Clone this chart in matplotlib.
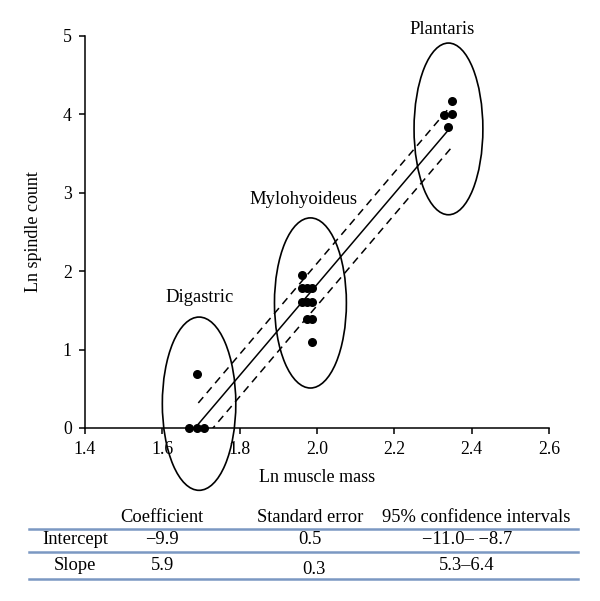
import matplotlib
matplotlib.use("Agg")
import matplotlib.pyplot as plt
import numpy as np
from matplotlib.patches import Ellipse
from matplotlib.lines import Line2D

plt.rcParams['font.family'] = ['Liberation Serif', 'DejaVu Serif']

# ---- data ----
dig_x = [1.669, 1.689, 1.708, 1.689]
dig_y = [0.0, 0.0, 0.0, 0.693]
myl_x = [1.960, 1.960, 1.973, 1.988, 1.960, 1.973, 1.988, 1.973, 1.988, 1.988]
myl_y = [1.946, 1.792, 1.792, 1.792, 1.609, 1.609, 1.609, 1.386, 1.386, 1.099]
pla_x = [2.350, 2.328, 2.350, 2.339]
pla_y = [4.17, 3.99, 4.00, 3.84]

fit_intercept = -9.77
fit_slope = 5.80
fit_xrange = [1.693, 2.339]
ci_offset = 0.27
ci_upper_xrange = [1.693, 2.344]
ci_lower_xrange = [1.723, 2.348]

groups = ["Digastric", "Mylohyoideus", "Plantaris"]
ell_center = [(1.695, 0.31), (1.983, 1.595), (2.340, 3.815)]
ell_width = [0.19, 0.186, 0.178]
ell_height = [2.21, 2.17, 2.19]
label_pos = [(1.695, 1.67), (1.964, 2.92), (2.323, 5.08)]

xticks = [1.4, 1.6, 1.8, 2.0, 2.2, 2.4, 2.6]
xtick_labels = ["1.4", "1.6", "1.8", "2.0", "2.2", "2.4", "2.6"]
yticks = [0, 1, 2, 3, 4, 5]

table_header = ["Coefficient", "Standard error", "95% confidence intervals"]
table_rows = ["Intercept", "Slope"]
table_coef = ["\u22129.9", "5.9"]
table_se = ["0.5", "0.3"]
table_ci = ["\u221211.0\u2013 \u22128.7", "5.3\u20136.4"]

W, H = 600, 601
fig = plt.figure(figsize=(W / 100, H / 100), dpi=100)
ax = fig.add_axes([85 / W, 1 - 428 / H, (549 - 85) / W, (428 - 36) / H])
ax.set_xlim(1.4, 2.6)
ax.set_ylim(0, 5)
for s in ["top", "right"]:
    ax.spines[s].set_visible(False)
for s in ["left", "bottom"]:
    ax.spines[s].set_linewidth(1.1)
ax.set_xticks(xticks)
ax.set_xticklabels(xtick_labels)
ax.set_yticks(yticks)
ax.tick_params(direction="out", length=4.5, width=1.1, labelsize=12.8, pad=5)
ax.set_xlabel("Ln muscle mass", fontsize=13, labelpad=8)
ax.set_ylabel("Ln spindle count", fontsize=13, labelpad=15)

# points
for xs, ys in [(dig_x, dig_y), (myl_x, myl_y), (pla_x, pla_y)]:
    ax.scatter(xs, ys, s=30, color="black", zorder=5, clip_on=False)

# regression lines
xf = np.array(fit_xrange)
ax.plot(xf, fit_intercept + fit_slope * xf, color="black", lw=1.1)
xu = np.array(ci_upper_xrange)
ax.plot(xu, fit_intercept + fit_slope * xu + ci_offset, color="black", lw=1.1,
        dashes=(5, 3.5))
xl = np.array(ci_lower_xrange)
ax.plot(xl, fit_intercept + fit_slope * xl - ci_offset, color="black", lw=1.1,
        dashes=(5, 3.5))

# ellipses and labels
for name, c, w, h, lp in zip(groups, ell_center, ell_width, ell_height, label_pos):
    e = Ellipse(c, w, h, fill=False, edgecolor="black", lw=1.2, clip_on=False)
    ax.add_patch(e)
    ax.text(lp[0], lp[1], name, ha="center", va="center", fontsize=13.4,
            clip_on=False)

# ---- table below ----
def fx(px):
    return px / W

def fy(py):
    return 1 - py / H

line_col = "#7b98c2"
for yy in [529, 552, 579]:
    fig.add_artist(Line2D([fx(29), fx(578)], [fy(yy), fy(yy)], color=line_col,
                          lw=1.8, transform=fig.transFigure))

tfs = 13.3
col_x = [162, 310, 476]
for t, cx in zip(table_header, col_x):
    fig.text(fx(cx), fy(517), t, ha="center", va="center", fontsize=tfs)
row_y = [540, 565]
for i, r in enumerate(table_rows):
    fig.text(fx(75), fy(row_y[i]), r, ha="center", va="center", fontsize=tfs)
    fig.text(fx(162), fy(row_y[i]), table_coef[i], ha="center", va="center", fontsize=tfs)
    fig.text(fx(310 if i == 0 else 314), fy(row_y[i] + (0 if i == 0 else 5)), table_se[i],
             ha="center", va="center", fontsize=tfs)
    fig.text(fx(467), fy(row_y[i]), table_ci[i], ha="center", va="center", fontsize=tfs)

fig.savefig("out.png", dpi=100)
